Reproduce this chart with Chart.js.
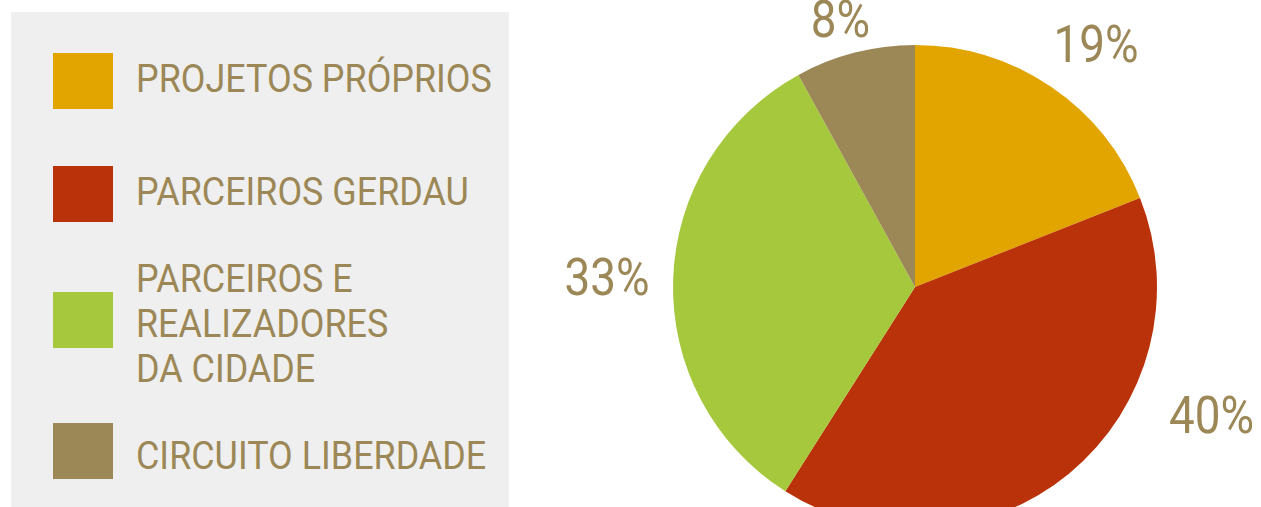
<!DOCTYPE html>
<html>
<head>
<meta charset="utf-8">
<script src="https://cdn.jsdelivr.net/npm/chart.js@4.4.1/dist/chart.umd.min.js"></script>
<style>
  html, body { margin: 0; padding: 0; background: #fff; overflow: hidden; width: 1261px; height: 507px; }
  #wrap { position: relative; width: 1261px; height: 507px; }
  #pieChart { position: absolute; left: 0; top: 0; }
  #legend {
    position: absolute; left: 11px; top: 12px; width: 498px; height: 520px;
    background: #efefef; z-index: 2;
  }
  .sw { position: absolute; left: 42px; width: 60px; height: 56px; }
  .txt {
    position: absolute; left: 125px; color: #9c8756;
    font-family: Roboto, sans-serif;
    font-size: 38px; line-height: 45px; white-space: nowrap;
    transform-origin: left center;
  }
</style>
</head>
<body>
<div id="wrap">
  <canvas id="pieChart" width="1261" height="580"></canvas>
  <div id="legend"></div>
</div>
<script>
// dados do gráfico
const categorias = [
  ['PROJETOS PRÓPRIOS'],
  ['PARCEIROS GERDAU'],
  ['PARCEIROS E', 'REALIZADORES', 'DA CIDADE'],
  ['CIRCUITO LIBERDADE']
];
const percentuais = [19, 40, 33, 8];
const cores = ['#e2a500', '#ba3209', '#a6c83d', '#9c8756'];

const corTexto = '#9c8756';

// fator de condensação: Roboto estreitada para imitar a fonte condensada
function condensa(font, textos, larguraAlvo) {
  const c = document.createElement('canvas').getContext('2d');
  c.font = font;
  const w = textos.reduce((acc, t) => acc + c.measureText(t).width, 0);
  return larguraAlvo / w;
}
const escalaLegenda = condensa('38px Roboto', ['PROJETOS PRÓPRIOS', 'PARCEIROS GERDAU', 'CIRCUITO LIBERDADE'], 1039);
const escalaRotulo = condensa('52px Roboto', ['19%'], 85);

// legenda em HTML (posições relativas à caixa cinza)
const swatchTopos = [41, 154, 280, 411];
const textoCentros = [67.5, 180.5, 312.5, 444];
function buildLegend() {
  const box = document.getElementById('legend');
  categorias.forEach((linhas, i) => {
    const sw = document.createElement('div');
    sw.className = 'sw';
    sw.style.top = swatchTopos[i] + 'px';
    sw.style.background = cores[i];
    const txt = document.createElement('div');
    txt.className = 'txt';
    txt.style.top = (textoCentros[i] - linhas.length * 45 / 2) + 'px';
    txt.style.transform = `scaleX(${escalaLegenda})`;
    txt.innerHTML = linhas.join('<br>');
    box.appendChild(sw);
    box.appendChild(txt);
  });
}

// posição dos rótulos, em frações do raio a partir do centro (x, y da linha de base)
const labelOffsets = [
  [0.748, -0.930],
  [1.225, 0.603],
  [-1.273, 0.033],
  [-0.308, -1.033]
];

const percentLabels = {
  id: 'percentLabels',
  afterDatasetsDraw(chart) {
    const ctx = chart.ctx;
    const meta = chart.getDatasetMeta(0);
    meta.data.forEach((arc, i) => {
      const r = arc.outerRadius;
      const [fx, fy] = labelOffsets[i];
      ctx.save();
      ctx.fillStyle = corTexto;
      ctx.font = '52px Roboto, sans-serif';
      ctx.textAlign = 'center';
      ctx.textBaseline = 'alphabetic';
      ctx.translate(arc.x + fx * r, arc.y + fy * r);
      ctx.scale(escalaRotulo, 1);
      ctx.fillText(percentuais[i] + '%', 0, 0);
      ctx.restore();
    });
  }
};

function initChart() {
  const ctx = document.getElementById('pieChart').getContext('2d');
  new Chart(ctx, {
    type: 'pie',
    data: {
      labels: categorias.map(l => l.join(' ')),
      datasets: [{
        data: percentuais,
        backgroundColor: cores,
        borderWidth: 0
      }]
    },
    options: {
      responsive: false,
      animation: false,
      layout: { padding: { left: 673, right: 104, top: 45, bottom: 51 } },
      plugins: {
        legend: { display: false },
        tooltip: { enabled: false }
      }
    },
    plugins: [percentLabels]
  });
}

buildLegend();
initChart();
</script>
</body>
</html>
